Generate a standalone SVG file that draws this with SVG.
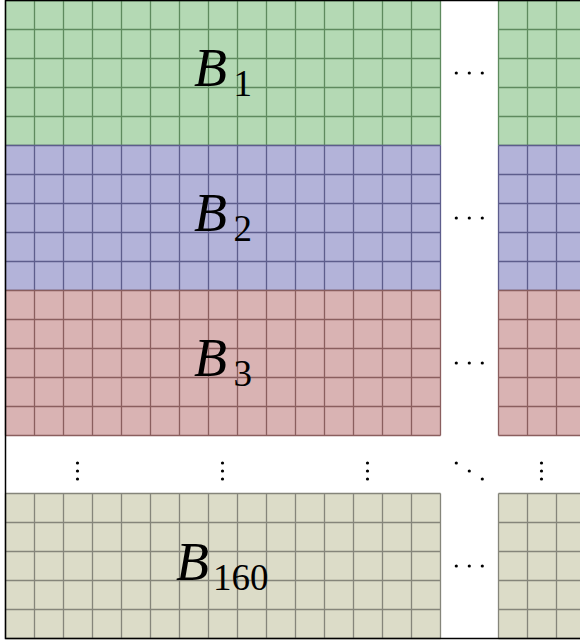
<svg xmlns="http://www.w3.org/2000/svg" xmlns:xlink="http://www.w3.org/1999/xlink" width="580" height="643" viewBox="0 0 580 643">
<style>
.gl{fill:none;stroke-width:1.3}
.lbl{font-family:"Liberation Serif","Times New Roman",serif;fill:#000}
.B{font-style:italic;font-size:54px}
.s{font-size:37px}
.dot{fill:#000}
</style>
<defs>
<path id="grid" d="M5.5,0H440.5M5.5,29H440.5M5.5,58H440.5M5.5,87H440.5M5.5,116H440.5M5.5,145H440.5M5.5,0V145M34.5,0V145M63.5,0V145M92.5,0V145M121.5,0V145M150.5,0V145M179.5,0V145M208.5,0V145M237.5,0V145M266.5,0V145M295.5,0V145M324.5,0V145M353.5,0V145M382.5,0V145M411.5,0V145M440.5,0V145M498.5,0H590M498.5,29H590M498.5,58H590M498.5,87H590M498.5,116H590M498.5,145H590M498.5,0V145M527.5,0V145M556.5,0V145M585.5,0V145"/>
<g id="fill"><rect x="5.5" y="0" width="435" height="145"/><rect x="498.5" y="0" width="92" height="145"/></g>
<g id="hdots"><circle cx="456.3" cy="0" r="1.6"/><circle cx="469.3" cy="0" r="1.6"/><circle cx="482.3" cy="0" r="1.6"/></g>
<g id="vdots"><circle cx="0" cy="-8" r="1.6"/><circle cx="0" cy="0" r="1.6"/><circle cx="0" cy="8" r="1.6"/></g>
</defs>

<g id="B1" transform="translate(0,0.5)">
<use xlink:href="#fill" fill="#b4d9b4"/>
<use xlink:href="#grid" class="gl" stroke="#5e8a5e"/>
<text class="lbl" y="85.5"><tspan class="B" x="194">B</tspan><tspan class="s" x="233.5" y="95">1</tspan></text>
<use xlink:href="#hdots" class="dot" y="72.5"/>
</g>
<g id="B2" transform="translate(0,145.5)">
<use xlink:href="#fill" fill="#b3b3d9"/>
<use xlink:href="#grid" class="gl" stroke="#5d5d8c"/>
<text class="lbl" y="85.5"><tspan class="B" x="194">B</tspan><tspan class="s" x="233.5" y="95">2</tspan></text>
<use xlink:href="#hdots" class="dot" y="72.5"/>
</g>
<g id="B3" transform="translate(0,290.5)">
<use xlink:href="#fill" fill="#d9b3b3"/>
<use xlink:href="#grid" class="gl" stroke="#8a5e5e"/>
<text class="lbl" y="85.5"><tspan class="B" x="194">B</tspan><tspan class="s" x="233.5" y="95">3</tspan></text>
<use xlink:href="#hdots" class="dot" y="72.5"/>
</g>
<g id="vgap">
<use xlink:href="#vdots" class="dot" x="77.5" y="471"/>
<use xlink:href="#vdots" class="dot" x="222.5" y="471"/>
<use xlink:href="#vdots" class="dot" x="367.5" y="471"/>
<use xlink:href="#vdots" class="dot" x="541.5" y="471"/>
<circle class="dot" cx="456.3" cy="463" r="1.6"/><circle class="dot" cx="469.3" cy="471" r="1.6"/><circle class="dot" cx="482.3" cy="479" r="1.6"/>
</g>
<g id="B160" transform="translate(0,493.5)">
<use xlink:href="#fill" fill="#dcdcc8"/>
<use xlink:href="#grid" class="gl" stroke="#85857a"/>
<text class="lbl" y="86.5"><tspan class="B" x="176">B</tspan><tspan class="s" x="213" y="96.5">160</tspan></text>
<use xlink:href="#hdots" class="dot" y="72.5"/>
</g>
<rect id="frame" x="5.5" y="0.5" width="600" height="638" fill="none" stroke="#000" stroke-width="1.5"/>
</svg>
